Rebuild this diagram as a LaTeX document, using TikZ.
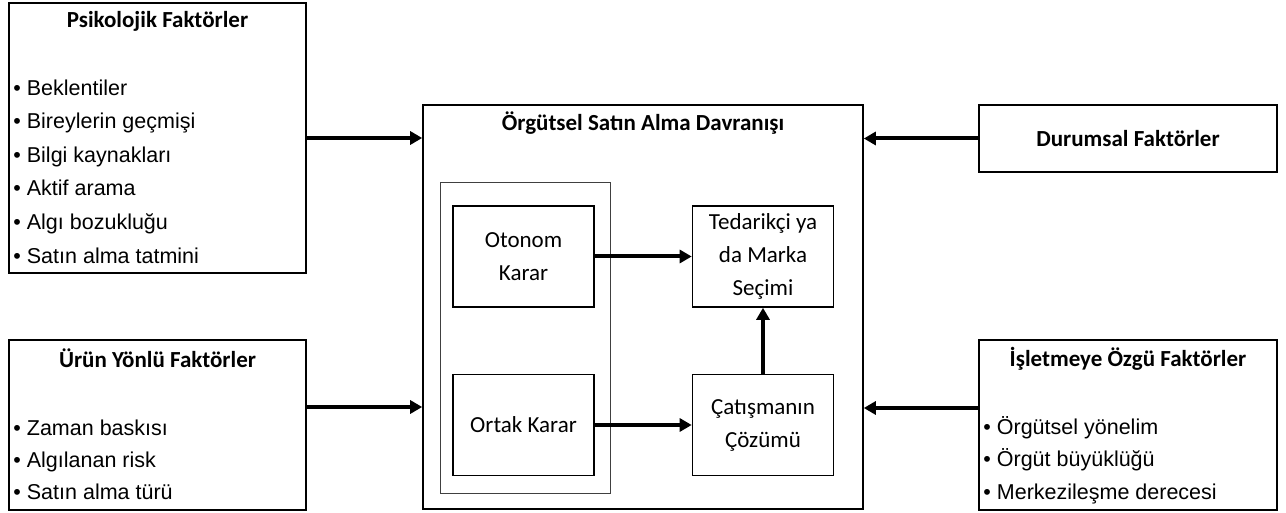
\documentclass[tikz,border=0pt]{standalone}
\usepackage{fontspec}
\setmainfont{Carlito}
\newfontfamily\itemfont{Liberation Sans}
\usetikzlibrary{arrows.meta, positioning}
\tikzset{box/.style={rectangle,draw,line width=1.6pt,inner sep=0pt},
  stepbox/.style={box,minimum width=141pt,minimum height=101pt,align=center,font=\fontsize{23}{33}\selectfont},
  head/.style={font=\bfseries\fontsize{23}{26}\selectfont,inner sep=0pt,anchor=base},
  item/.style={font=\itemfont\fontsize{21.5}{26}\selectfont,inner sep=0pt,anchor=base west},
  line/.style={-{Triangle[length=12pt,width=13pt]},line width=4pt}}

\begin{document}
\begin{tikzpicture}[x=1pt,y=-1pt]
\useasboundingbox (0,0) rectangle (1286,513);
% factor boxes
\node[box,minimum width=297pt,minimum height=270pt] (psy) at (157.5,138) {};
\node[box,minimum width=297pt,minimum height=170pt] (urun) at (157.5,425) {};
\node[box,minimum width=298pt,minimum height=67pt] (dur) at (1128,138.5) {};
\node[box,minimum width=298pt,minimum height=170pt] (isl) at (1128,425) {};
\node[head] (psyT) at ([yshift=-25pt]psy.north) {Psikolojik Faktörler};
\node[head] (urunT) at ([yshift=-28pt]urun.north) {Ürün Yönlü Faktörler};
\node[head] (durT) at ([yshift=-42pt]dur.north) {Durumsal Faktörler};
\node[head] (islT) at ([yshift=-27pt]isl.north) {İşletmeye Özgü Faktörler};
\foreach \t [count=\i from 0] in {Beklentiler,Bireylerin geçmişi,Bilgi kaynakları,Aktif arama,Algı bozukluğu,Satın alma tatmini}
  \node[item] (psy-\i) at ([xshift=5pt,yshift={-93pt-33.6pt*\i}]psy.north west) {• \t};
\foreach \t [count=\i from 0] in {Zaman baskısı,Algılanan risk,Satın alma türü}
  \node[item] (urun-\i) at ([xshift=5pt,yshift={-96pt-32pt*\i}]urun.north west) {• \t};
\foreach \t [count=\i from 0] in {Örgütsel yönelim,Örgüt büyüklüğü,Merkezileşme derecesi}
  \node[item] (isl-\i) at ([xshift=5pt,yshift={-95pt-32.5pt*\i}]isl.north west) {• \t};

% buying behaviour
\node[box,minimum width=440pt,minimum height=404pt] (main) at (643,307) {};
\node[head] (mainT) at ([yshift=-26pt]main.north) {Örgütsel Satın Alma Davranışı};
\node[rectangle,draw=black!75,line width=1pt,minimum width=170pt,minimum height=310pt] (karar) at (525,338) {};
\node[stepbox] (oto) at (523.5,256.5) {Otonom\\Karar};
\node[stepbox] (ortak) at (523.5,425) {Ortak Karar};
\node[stepbox] (ted) at (763,256.5) {Tedarikçi ya\\da Marka\\Seçimi};
\node[stepbox] (cat) at (763,425) {Çatışmanın\\Çözümü};

\draw[line] (psy.east) -- (psy.east -| main.west);
\draw[line] ([yshift=18pt]urun.east) -- ([yshift=18pt]urun.east -| main.west);
\draw[line] (dur.west) -- (dur.west -| main.east);
\draw[line] ([yshift=17pt]isl.west) -- ([yshift=17pt]isl.west -| main.east);
\draw[line] (oto) -- (ted);
\draw[line] (ortak) -- (cat);
\draw[line] (cat) -- (ted);
\end{tikzpicture}
\end{document}
